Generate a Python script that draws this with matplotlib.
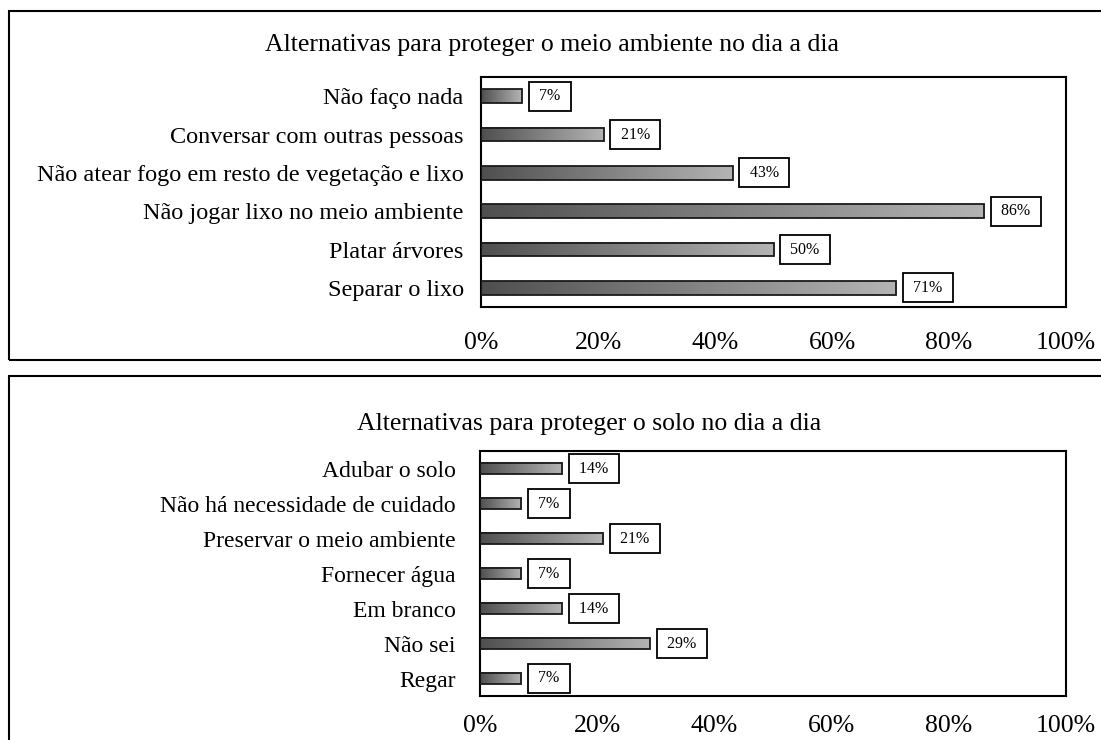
import numpy as np
import matplotlib
matplotlib.use("Agg")
import matplotlib.pyplot as plt
from matplotlib.colors import LinearSegmentedColormap
from matplotlib.patches import Rectangle

plt.rcParams['font.family'] = ['Liberation Serif', 'DejaVu Serif']

# ---- data ----
title_top = "Alternativas para proteger o meio ambiente no dia a dia"
cats_top = ["Não faço nada", "Conversar com outras pessoas",
            "Não atear fogo em resto de vegetação e lixo",
            "Não jogar lixo no meio ambiente", "Platar árvores", "Separar o lixo"]
vals_top = [7, 21, 43, 86, 50, 71]

title_bot = "Alternativas para proteger o solo no dia a dia"
cats_bot = ["Adubar o solo", "Não há necessidade de cuidado",
            "Preservar o meio ambiente", "Fornecer água", "Em branco",
            "Não sei", "Regar"]
vals_bot = [14, 7, 21, 7, 14, 29, 7]

xticks = [0, 20, 40, 60, 80, 100]

W, H = 1101, 740
fig = plt.figure(figsize=(W / 100, H / 100), dpi=100)

cmap = LinearSegmentedColormap.from_list("g", ["#4f4f4f", "#b4b4b4"])
grad = np.linspace(0, 1, 256).reshape(1, -1)


def px_ax(x0, y0, x1, y1):
    return fig.add_axes([x0 / W, 1 - y1 / H, (x1 - x0) / W, (y1 - y0) / H])


def frame(y0, y1):
    fig.patches.append(Rectangle((9 / W, 1 - y1 / H), 1.2, (y1 - y0) / H,
                                 transform=fig.transFigure, fill=False,
                                 edgecolor="black", lw=1.5, zorder=0))


def draw(ax, cats, vals, h, xpad, ylfs, ylpad, title, tx, ty):
    n = len(cats)
    for i, v in enumerate(vals):
        ax.imshow(grad, extent=[0, v, i + h / 2, i - h / 2], cmap=cmap,
                  aspect="auto", zorder=2, interpolation="bilinear")
    ax.barh(np.arange(n), vals, height=h, fill=False, edgecolor="#1a1a1a",
            lw=1.3, zorder=3)
    for i, v in enumerate(vals):
        ax.annotate(f" {v}% ", xy=(v, i), xytext=(13, 0), textcoords="offset pixels",
                    ha="left", va="center", fontsize=11.5, zorder=4,
                    bbox=dict(boxstyle="square,pad=0.4", fc="white",
                              ec="black", lw=1.3))
    ax.set_xlim(0, 100)
    ax.set_ylim(n - 0.5, -0.5)
    ax.set_yticks(np.arange(n))
    ax.set_yticklabels(cats, fontsize=ylfs)
    ax.set_xticks(xticks)
    ax.set_xticklabels([f"{t}%" for t in xticks], fontsize=18.5)
    ax.tick_params(axis="both", length=0)
    ax.tick_params(axis="x", pad=xpad)
    ax.tick_params(axis="y", pad=ylpad)
    for s in ax.spines.values():
        s.set_linewidth(1.5)
        s.set_color("black")
    fig.text(tx / W, 1 - ty / H, title, ha="center", va="center", fontsize=18.5)


frame(11, 360)
frame(376, 760)

ax1 = px_ax(481, 77, 1066, 307)
draw(ax1, cats_top, vals_top, 0.36, 18, 17.5, 12.5, title_top, 552, 45)

ax2 = px_ax(480, 451, 1066, 696)
draw(ax2, cats_bot, vals_bot, 0.33, 14, 17, 17.5, title_bot, 589, 424)

fig.savefig("out.png", dpi=100)
